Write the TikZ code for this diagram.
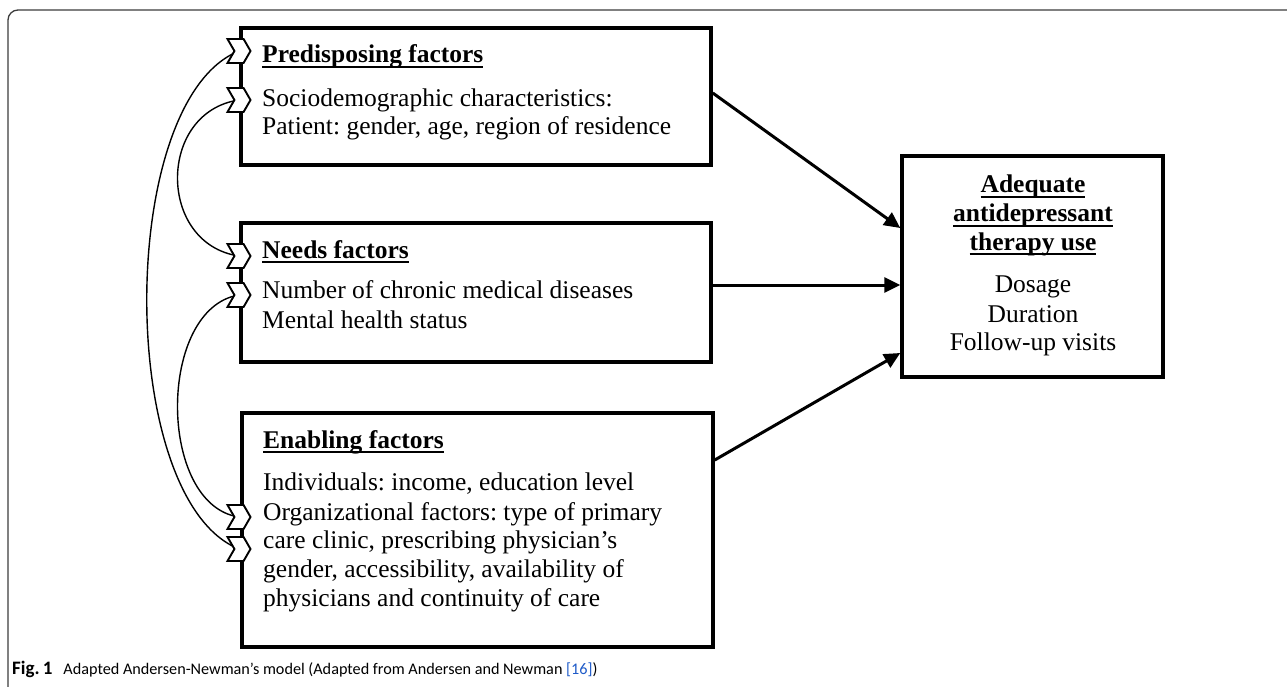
\documentclass[tikz,border=0pt]{standalone}
\usepackage{fontspec}
\setmainfont{Liberation Serif}
\newfontfamily\capfont{Carlito}
\usetikzlibrary{arrows.meta,shapes.symbols,calc}
\definecolor{linkblue}{RGB}{30,90,200}
\definecolor{framegray}{RGB}{60,60,60}
\newcommand\ulbox[1]{\setbox0\hbox{#1}\rlap{\rule[-5pt]{\wd0}{2pt}}\box0}
\frenchspacing
\begin{document}
\begin{tikzpicture}[x=1pt,y=-1pt,
  box/.style={draw,line width=3.5pt,inner sep=0pt},
  body/.style={anchor=base west,inner sep=0pt,font=\frenchspacing\fontsize{25.5}{29}\selectfont},
  cbody/.style={anchor=base,inner sep=0pt,font=\frenchspacing\fontsize{25.5}{29}\selectfont},
  chev/.style={signal,signal from=west,signal to=east,draw,fill=white,line width=1.9pt,
    minimum width=23pt,minimum height=24pt,inner sep=0pt,signal pointer angle=120},
  curve/.style={line width=1.4pt},
  arr/.style={line width=3pt,-{Triangle[length=16pt,width=15pt]}}
]
\useasboundingbox (0,0) rectangle (1287,687);
\draw[line width=1.3pt,draw=framegray,rounded corners=10pt] (8,700) -- (8,10) -- (1300,10);

% boxes
\node[box,minimum width=470pt,minimum height=137pt] (pre) at (476,96.5) {};
\node[box,minimum width=470pt,minimum height=139pt] (needs) at (476,292.5) {};
\node[box,minimum width=471pt,minimum height=234pt] (enab) at (477.5,530) {};
\node[box,minimum width=261pt,minimum height=221pt] (out) at (1032.5,266.5) {};

% texts
\node[body] (t1) at (262,63) {\textbf{\ulbox{Predisposing factors}}};
\node[body] (t2) at (262,107) {Sociodemographic characteristics:};
\node[body] (t3) at (262,135) {Patient: gender, age, region of residence};

\node[body] (n1) at (262,258) {\textbf{\ulbox{Needs factors}}};
\node[body] (n2) at (262,298) {Number of chronic medical diseases};
\node[body] (n3) at (262,328) {Mental health status};

\node[body] (e1) at (263,448) {\textbf{\ulbox{Enabling factors}}};
\node[body] (e2) at (263,490) {Individuals: income, education level};
\node[body] (e3) at (263,520) {Organizational factors: type of primary};
\node[body] (e4) at (263,548) {care clinic, prescribing physician’s};
\node[body] (e5) at (263,577) {gender, accessibility, availability of};
\node[body] (e6) at (263,606) {physicians and continuity of care};

\node[cbody] (a1) at (1033,193) {\textbf{\ulbox{Adequate}}};
\node[cbody] (a2) at (1033,222) {\textbf{\ulbox{antidepressant}}};
\node[cbody] (a3) at (1033,250) {\textbf{\ulbox{therapy use}}};
\node[cbody] (a4) at (1033,292) {Dosage};
\node[cbody] (a5) at (1033,322) {Duration};
\node[cbody] (a6) at (1033,350) {Follow-up visits};

% chevron positions
\coordinate (p1) at (239,51);
\coordinate (p2) at (239,100);
\coordinate (p3) at (239,256);
\coordinate (p4) at (239,295);
\coordinate (p5) at (239,517);
\coordinate (p6) at (239,549);

% curves
\draw[curve] (p1) .. controls (116,100) and (116,500) .. (p6);
\draw[curve] (p2) .. controls (157,112) and (157,244) .. (p3);
\draw[curve] (p4) .. controls (157,308) and (157,505) .. (p5);

% chevrons
\node[chev] (c1) at (p1) {};
\node[chev] (c2) at (p2) {};
\node[chev] (c3) at (p3) {};
\node[chev] (c4) at (p4) {};
\node[chev] (c5) at (p5) {};
\node[chev] (c6) at (p6) {};

% arrows
\coordinate (o1) at ($(out.west)+(0,-38.5)$);
\coordinate (o2) at ($(out.west)+(0,18.5)$);
\coordinate (o3) at ($(out.west)+(0,86.5)$);
\draw[arr] ($(pre.east)+(0,-3.5)$) -- (o1);
\draw[arr] (needs.east |- o2) -- (o2);
\draw[arr] ($(enab.east)+(0,-70)$) -- (o3);

% caption
\node[anchor=base west,inner sep=0pt,font=\capfont\fontsize{16.2}{19}\selectfont] (cap) at (12,674)
  {{\fontsize{19}{20}\selectfont\textbf{Fig.\,1}}\hspace{11pt}Adapted Andersen-Newman’s model (Adapted from Andersen and Newman {\color{linkblue}[16]})};
\end{tikzpicture}
\end{document}
